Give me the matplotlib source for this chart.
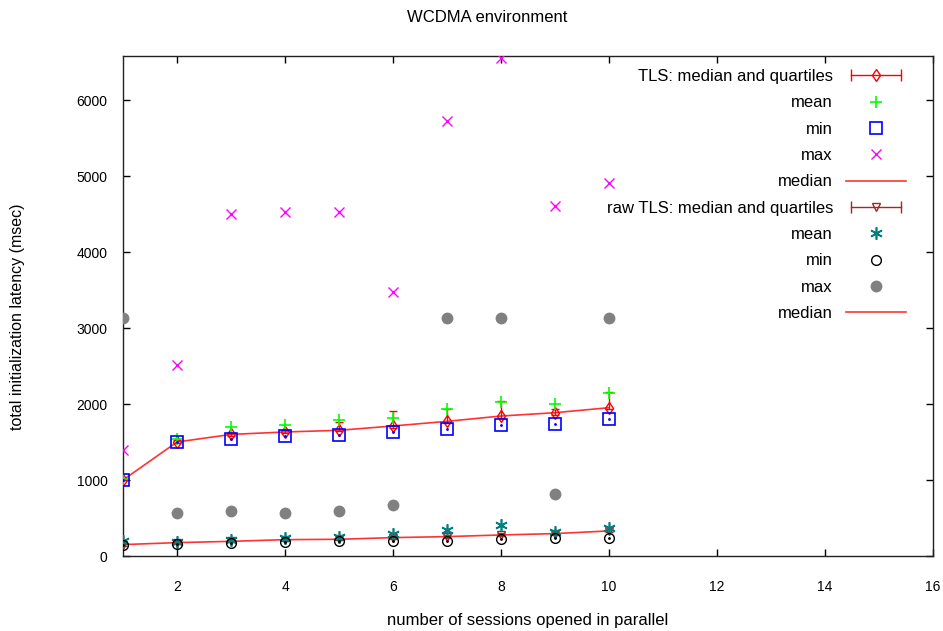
import matplotlib
matplotlib.use('Agg')
import matplotlib.pyplot as plt
from matplotlib.lines import Line2D
from matplotlib.legend_handler import HandlerLine2D

plt.rcParams['font.family'] = ['Liberation Sans', 'DejaVu Sans']
TICK_SIZE = 10
TEXT_SIZE = 12

# ---------------- data ----------------
sessions = [1, 2, 3, 4, 5, 6, 7, 8, 9, 10]

tls_median = [1000, 1500, 1600, 1632, 1654, 1711, 1772, 1842, 1886, 1952]
tls_q1 = [995, 1490, 1585, 1620, 1640, 1690, 1750, 1820, 1860, 1940]
tls_q3 = [1010, 1530, 1620, 1660, 1760, 1910, 1940, 2040, 1930, 2160]
tls_mean = [1010, 1544, 1697, 1719, 1789, 1820, 1939, 2031, 2004, 2149]
tls_min = [1000, 1500, 1544, 1579, 1596, 1632, 1667, 1719, 1741, 1807]
tls_max = [1390, 2520, 4500, 4530, 4530, 3470, 5725, 6560, 4600, 4910]

raw_median = [150, 176, 193, 215, 220, 242, 255, 277, 295, 330]
raw_q1 = [135, 165, 180, 200, 205, 225, 240, 262, 280, 310]
raw_q3 = [170, 190, 210, 230, 240, 262, 275, 300, 312, 350]
raw_mean = [195, 189, 207, 233, 255, 286, 343, 409, 316, 374]
raw_min = [140, 163, 176, 185, 193, 193, 198, 220, 233, 242]
raw_max = [3130, 571, 593, 571, 593, 668, 3130, 3130, 813, 3130]

x_ticks = [2, 4, 6, 8, 10, 12, 14, 16]
y_ticks = [0, 1000, 2000, 3000, 4000, 5000, 6000]

title = "WCDMA environment"
xlabel = "number of sessions opened in parallel"
ylabel = "total initialization latency (msec)"

RED = '#ff0000'
GREEN = '#00ff00'
BLUE = '#0000ff'
MAGENTA = '#ff00ff'
DARKRED = '#a02828'
TEAL = '#008080'
GRAY = '#808080'

# ---------------- figure ----------------
W, H = 943, 631
fig = plt.figure(figsize=(W / 100, H / 100), dpi=100)
L, R, T, B = 123, 933, 56, 556
ax = fig.add_axes([L / W, 1 - B / H, (R - L) / W, (B - T) / H])

def yerr(med, q1, q3):
    return [[m - a for m, a in zip(med, q1)], [b - m for m, b in zip(med, q3)]]

# TLS
ax.errorbar(sessions, tls_median, yerr=yerr(tls_median, tls_q1, tls_q3),
            fmt='d', color=RED, mfc='none', ms=6, capsize=3, elinewidth=1,
            capthick=1, zorder=3)
ax.plot(sessions, tls_mean, ls='none', marker='+', color=GREEN, ms=9, mew=1.2, zorder=4)
ax.plot(sessions, tls_min, ls='none', marker='s', color=BLUE, mfc='none', ms=8, mew=1.2, zorder=4)
ax.plot(sessions, tls_min, ls='none', marker='.', color=BLUE, ms=2, zorder=4)
ax.plot(sessions, tls_max, ls='none', marker='x', color=MAGENTA, ms=7, mew=1, zorder=4)
ax.plot(sessions, tls_median, color=RED, lw=1.2, alpha=0.8, zorder=3)

# raw TLS
ax.errorbar(sessions, raw_median, yerr=yerr(raw_median, raw_q1, raw_q3),
            fmt='v', color=DARKRED, mfc='none', ms=6, capsize=3, elinewidth=1,
            capthick=1, zorder=3)
ax.plot(sessions, raw_mean, ls='none', marker=(6, 2, 0), color=TEAL, ms=9, mew=1.2, zorder=4)
ax.plot(sessions, raw_min, ls='none', marker='o', color='black', mfc='none', ms=7, mew=1, zorder=4)
ax.plot(sessions, raw_min, ls='none', marker='.', color='black', ms=2, zorder=4)
ax.plot(sessions, raw_max, ls='none', marker='o', color=GRAY, ms=7.5, zorder=4)
ax.plot(sessions, raw_median, color=RED, lw=1.2, alpha=0.8, zorder=3)

# axes styling
ax.set_xlim(1, 16)
ax.set_ylim(0, 6580)
ax.set_xticks(x_ticks)
ax.set_yticks(y_ticks)
ax.tick_params(axis='both', direction='in', length=5, width=1, top=True, right=True,
               colors='black', labelsize=TICK_SIZE)
ax.tick_params(axis='x', pad=17)
ax.tick_params(axis='y', pad=11)
for s in ax.spines.values():
    s.set_linewidth(1)
    s.set_color('#222222')

fig.text(487 / W, 1 - 17 / H, title, ha='center', va='center', fontsize=TEXT_SIZE)
fig.text(528 / W, 1 - 621 / H, xlabel, ha='center', va='center', fontsize=TEXT_SIZE)
fig.text(18 / W, 1 - 317 / H, ylabel, ha='center', va='center', rotation=90, fontsize=11.5)

# legend
h_tls_bar = Line2D([], [], color=RED, marker='|', ms=8, lw=1)
h_tls_pt = Line2D([], [], color=RED, marker='d', mfc='none', ls='none', ms=6)
h_raw_bar = Line2D([], [], color=DARKRED, marker='|', ms=8, lw=1)
h_raw_pt = Line2D([], [], color=DARKRED, marker='v', mfc='none', ls='none', ms=6)
handles = [
    (h_tls_bar, h_tls_pt),
    Line2D([], [], color=GREEN, marker='+', ls='none', ms=9, mew=1.2),
    Line2D([], [], color=BLUE, marker='s', mfc='none', ls='none', ms=8, mew=1.2),
    Line2D([], [], color=MAGENTA, marker='x', ls='none', ms=7),
    Line2D([], [], color=RED, lw=1.2, alpha=0.8),
    (h_raw_bar, h_raw_pt),
    Line2D([], [], color=TEAL, marker=(6, 2, 0), ls='none', ms=9, mew=1.2),
    Line2D([], [], color='black', marker='o', mfc='none', ls='none', ms=7),
    Line2D([], [], color=GRAY, marker='o', ls='none', ms=7.5),
    Line2D([], [], color=RED, lw=1.2, alpha=0.8),
]
labels = ["TLS: median and quartiles", "mean", "min", "max", "median",
          "raw TLS: median and quartiles", "mean", "min", "max", "median"]
ax.legend(handles, labels,
          handler_map={h_tls_bar: HandlerLine2D(numpoints=2),
                       h_raw_bar: HandlerLine2D(numpoints=2)},
          loc='upper right', bbox_to_anchor=(906 / W, 1 - 69 / H),
          bbox_transform=fig.transFigure, frameon=False, markerfirst=False,
          handlelength=3.6, handletextpad=0.78, labelspacing=0.68, borderpad=0,
          borderaxespad=0, fontsize=TEXT_SIZE, numpoints=1)

fig.savefig('out.png', dpi=100)
